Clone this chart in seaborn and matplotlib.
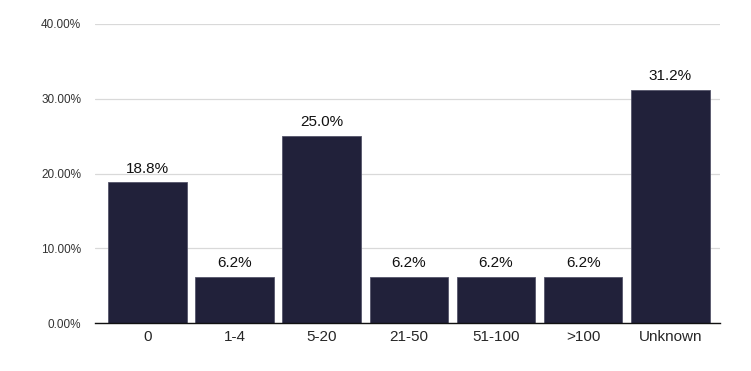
import matplotlib
matplotlib.use("Agg")
import matplotlib.pyplot as plt
import seaborn as sns
import pandas as pd

categories = ["0", "1-4", "5-20", "21-50", "51-100", ">100", "Unknown"]
values = [18.8, 6.2, 25.0, 6.2, 6.2, 6.2, 31.2]
labels = ["18.8%", "6.2%", "25.0%", "6.2%", "6.2%", "6.2%", "31.2%"]
yticks = [0, 10, 20, 30, 40]
ytick_labels = ["0.00%", "10.00%", "20.00%", "30.00%", "40.00%"]

sns.set_style("white")
plt.rcParams["font.family"] = ["Liberation Sans", "DejaVu Sans"]

df = pd.DataFrame({"cat": categories, "val": values})

fig = plt.figure(figsize=(7.51, 3.71), dpi=100)
ax = fig.add_axes([95/751, 1-323/371, (720-95)/751, (323-24)/371])

sns.barplot(data=df, x="cat", y="val", color="#21213a", saturation=1, width=0.9, ax=ax, zorder=3)
for p in ax.patches:
    p.set_edgecolor("#55556a")
    p.set_linewidth(0.6)

for i, (v, l) in enumerate(zip(values, labels)):
    ax.text(i, v + 0.9, l, ha="center", va="bottom", fontsize=11, color="#111111")

ax.set_ylim(0, 40)
ax.set_xlim(-0.6, 6.57)
ax.set_yticks(yticks)
ax.set_yticklabels(ytick_labels, fontsize=8.5, color="#333333")
ax.yaxis.grid(True, color="#d9d9d9", linewidth=0.9, zorder=0)
ax.set_axisbelow(True)
ax.tick_params(axis="y", length=0, pad=10)
ax.tick_params(axis="x", length=3, width=0.6, color="#888888", labelsize=11, pad=2)
ax.set_xlabel("")
ax.set_ylabel("")
for s in ["top", "right", "left"]:
    ax.spines[s].set_visible(False)
ax.spines["bottom"].set_color("#111111")
ax.spines["bottom"].set_linewidth(1.0)
ax.spines["bottom"].set_zorder(5)

fig.savefig("out.png", dpi=100)
